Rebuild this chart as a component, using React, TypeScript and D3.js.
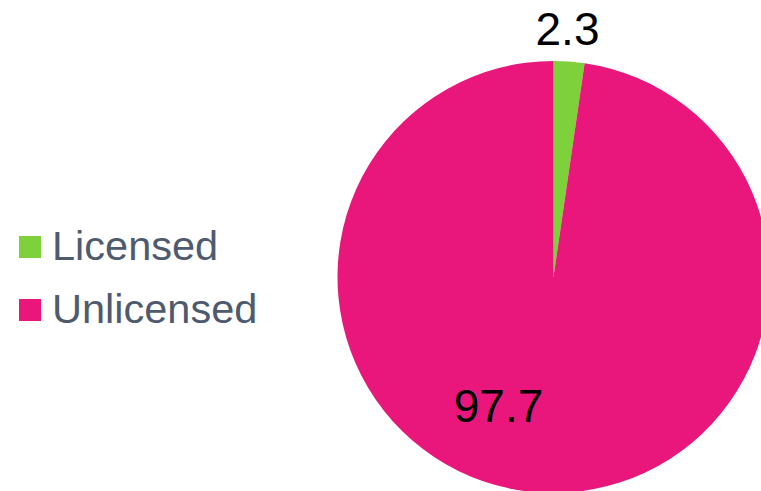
import React from "react";
import * as d3 from "d3";

const categories = ["Licensed", "Unlicensed"];
const values = [2.3, 97.7];
const colors = ["#7fd13b", "#e9177b"];

export default function App() {
  const width = 761;
  const height = 491;
  const cx = 553.5;
  const cy = 277;
  const r = 216;
  const pie = d3.pie<number>().sort(null).startAngle(0).endAngle(2 * Math.PI);
  const arcs = pie(values);
  const arc = d3.arc<d3.PieArcDatum<number>>().innerRadius(0).outerRadius(r);
  const labelPos = [
    { dx: 14, dy: -232 },
    { dx: -55, dy: 145 },
  ];
  return (
    <svg
      width={width}
      height={height}
      style={{ position: "absolute", left: 0, top: 0, display: "block" }}
      fontFamily="Liberation Sans, Arial, sans-serif"
    >
      <rect width={width} height={height} fill="#ffffff" />
      <g transform={`translate(${cx},${cy})`}>
        {arcs.map((a, i) => (
          <path key={i} d={arc(a) || ""} fill={colors[i]} />
        ))}
        {arcs.map((a, i) => (
          <text
            key={"l" + i}
            x={labelPos[i].dx}
            y={labelPos[i].dy}
            textAnchor="middle"
            fontSize={46}
            fill="#000"
          >
            {values[i]}
          </text>
        ))}
      </g>
      {categories.map((c, i) => (
        <g key={c} transform={`translate(19,${236 + i * 63})`}>
          <rect width={22} height={22} fill={colors[i]} />
          <text x={33} y={23.5} fontSize={41.5} fill="#4e5a6e">
            {c}
          </text>
        </g>
      ))}
    </svg>
  );
}
